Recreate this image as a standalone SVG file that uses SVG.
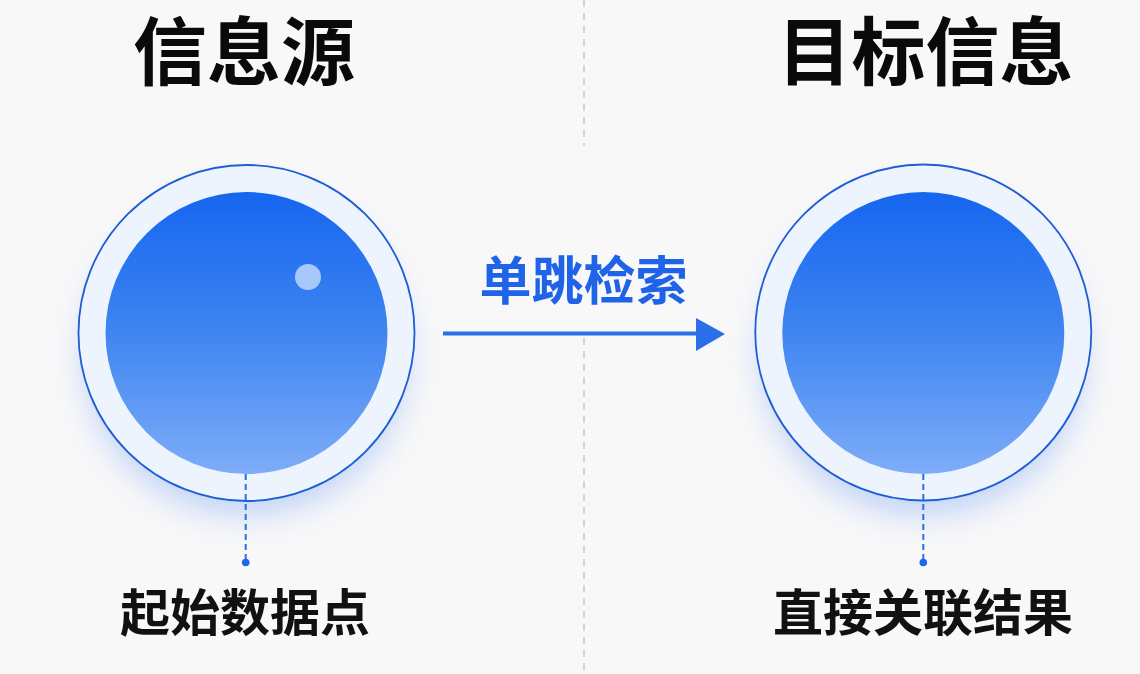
<svg xmlns="http://www.w3.org/2000/svg" width="1140" height="674" viewBox="0 0 1140 674">
  <defs>
    <linearGradient id="core" x1="0" y1="0" x2="0" y2="1">
      <stop offset="0" stop-color="#1566f0"/>
      <stop offset="0.5" stop-color="#3f85f1"/>
      <stop offset="1" stop-color="#7eadf8"/>
    </linearGradient>
    <filter id="glow" x="-30%" y="-30%" width="160%" height="170%">
      <feGaussianBlur stdDeviation="16"/>
    </filter>
    <style>
      .title { font-family: "Noto Sans CJK SC", "Noto Sans", sans-serif; font-weight: 700; font-size: 74px; fill: #0a0a0a; text-anchor: middle; }
      .label { font-family: "Noto Sans CJK SC", "Noto Sans", sans-serif; font-weight: 700; font-size: 50px; fill: #111111; text-anchor: middle; }
      .edge-label { font-family: "Noto Sans CJK SC", "Noto Sans", sans-serif; font-weight: 700; font-size: 52px; fill: #1f63e8; text-anchor: middle; }
      .ring { fill: #eef4fd; stroke: #1d5ed4; stroke-width: 1.8; }
      .core { fill: url(#core); }
      .halo { fill: #5a8ef0; opacity: 0.35; }
      .lead { stroke: #2d6fe0; stroke-width: 2; stroke-dasharray: 6 4; fill: none; }
      .pin { fill: #1f66ea; }
      .divider { stroke: #c8d5e8; stroke-width: 2; stroke-dasharray: 7 6; fill: none; }
    </style>
  </defs>

  <rect x="0" y="0" width="1140" height="674" fill="#f8f8f9"/>

  <g id="divider">
    <line class="divider" x1="584" y1="0" x2="584" y2="146"/>
    <line class="divider" x1="584" y1="338" x2="584" y2="674"/>
  </g>

  <g id="node-source">
    <text class="title" x="244" y="79">信息源</text>
    <ellipse class="halo" cx="246" cy="355" rx="162" ry="160" filter="url(#glow)"/>
    <circle class="ring" cx="246.5" cy="333" r="168"/>
    <circle class="core" cx="246.5" cy="333" r="141"/>
    <circle cx="308" cy="277" r="13" fill="#a9c8fa"/>
    <line class="lead" x1="245.7" y1="474" x2="245.7" y2="560"/>
    <circle class="pin" cx="245.7" cy="562.5" r="3.8"/>
    <text class="label" x="245" y="631">起始数据点</text>
  </g>

  <g id="node-target">
    <text class="title" x="925.5" y="79">目标信息</text>
    <ellipse class="halo" cx="923" cy="355" rx="162" ry="160" filter="url(#glow)"/>
    <circle class="ring" cx="923.3" cy="332.5" r="168"/>
    <circle class="core" cx="923.3" cy="333" r="141"/>
    <line class="lead" x1="923.3" y1="474" x2="923.3" y2="560"/>
    <circle class="pin" cx="923.3" cy="562.5" r="3.8"/>
    <text class="label" x="923" y="631">直接关联结果</text>
  </g>

  <g id="connectors">
    <line x1="443" y1="333.5" x2="698" y2="333.5" stroke="#2a6ee8" stroke-width="4"/>
    <polygon points="696,318 725,334 696,351" fill="#2a6ee8"/>
    <text class="edge-label" x="583.5" y="300">单跳检索</text>
  </g>
</svg>
